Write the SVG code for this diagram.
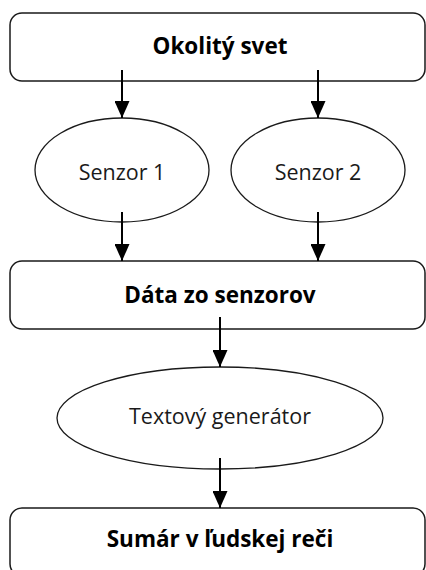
<svg xmlns="http://www.w3.org/2000/svg" width="426" height="570" viewBox="0 0 426 570">
<style>
.box{fill:#fff;stroke:#1a1a1a;stroke-width:1.5}
.ell{fill:#fff;stroke:#1a1a1a;stroke-width:1.3}
.b{font-family:"Open Sans","Liberation Sans",sans-serif;font-weight:bold;font-size:22.5px;fill:#000;text-anchor:middle}
.n{font-family:"Open Sans","Liberation Sans",sans-serif;font-size:21.5px;fill:#1a1a1a;text-anchor:middle}
.c{stroke:#000;stroke-width:2;fill:none;marker-end:url(#ah)}
</style>
<defs>
<marker id="ah" viewBox="0 0 17 15" refX="17" refY="7.5" markerWidth="17" markerHeight="15" markerUnits="userSpaceOnUse" orient="auto">
<path d="M0,0 L17,7.5 L0,15 Z" fill="#000"/>
</marker>
</defs>
<g id="n-okolity"><rect class="box" x="10" y="13" width="415" height="68" rx="12"/><text class="b" x="220" y="54">Okolitý svet</text></g>
<g id="n-senzor1"><ellipse class="ell" cx="122" cy="170" rx="87" ry="52"/><text class="n" x="122" y="180">Senzor 1</text></g>
<g id="n-senzor2"><ellipse class="ell" cx="318" cy="170" rx="87" ry="52"/><text class="n" x="318" y="180">Senzor 2</text></g>
<g id="n-data"><rect class="box" x="10" y="261" width="415" height="68" rx="12"/><text class="b" x="220" y="303">Dáta zo senzorov</text></g>
<g id="n-generator"><ellipse class="ell" cx="220" cy="418" rx="163" ry="51"/><text class="n" x="220" y="424">Textový generátor</text></g>
<g id="n-sumar"><rect class="box" x="10" y="508" width="415" height="68" rx="12"/><text class="b" x="220" y="547">Sumár v ľudskej reči</text></g>
<g id="connectors">
<line class="c" x1="122" y1="70" x2="122" y2="118"/>
<line class="c" x1="318" y1="70" x2="318" y2="118"/>
<line class="c" x1="122" y1="212" x2="122" y2="261"/>
<line class="c" x1="318" y1="212" x2="318" y2="261"/>
<line class="c" x1="220" y1="317" x2="220" y2="367"/>
<line class="c" x1="220" y1="458" x2="220" y2="508"/>
</g>
</svg>
